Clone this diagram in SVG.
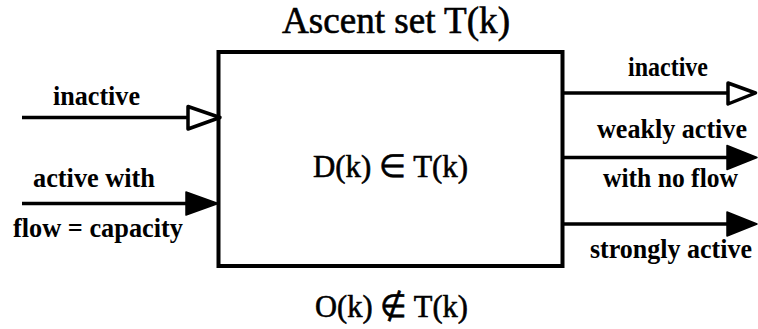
<svg xmlns="http://www.w3.org/2000/svg" width="758" height="329" viewBox="0 0 758 329">
<style>
.lbl{font-family:"Liberation Serif","Times New Roman",serif;font-weight:bold;font-size:27px;fill:#000}
.big{font-family:"Liberation Serif","Times New Roman",serif;fill:#000;stroke:#000;stroke-width:0.6}
.ln{stroke:#000;stroke-width:3.5;fill:none}
.open{fill:#fff;stroke:#000;stroke-width:3.5;stroke-linejoin:round}
.solid{fill:#000;stroke:#000;stroke-width:1.5;stroke-linejoin:round}
</style>
<rect width="758" height="329" fill="#fff"/>
<g id="title">
<text class="big" x="282" y="33" font-size="37" textLength="228" lengthAdjust="spacingAndGlyphs">Ascent set T(k)</text>
</g>
<g id="ascent-set">
<rect x="218.5" y="52" width="344" height="214" fill="#fff" stroke="#000" stroke-width="4"/>
<text class="big" x="313" y="177" font-size="32" textLength="155" lengthAdjust="spacingAndGlyphs">D(k) ∈ T(k)</text>
</g>
<g id="outside">
<text class="big" x="315" y="317" font-size="32" textLength="153" lengthAdjust="spacingAndGlyphs">O(k) ∉ T(k)</text>
</g>
<g id="connectors">
<line class="ln" x1="22" y1="117.5" x2="190" y2="117.5"/>
<polygon class="open" points="188,106.5 220,117.5 188,129"/>
<text class="lbl" x="53" y="105" textLength="87" lengthAdjust="spacingAndGlyphs">inactive</text>
<line class="ln" x1="22" y1="203.5" x2="188" y2="203.5"/>
<polygon class="solid" points="186,192 218,203.5 186,215"/>
<text class="lbl" x="33" y="187" textLength="122" lengthAdjust="spacingAndGlyphs">active with</text>
<text class="lbl" x="13" y="237" textLength="170" lengthAdjust="spacingAndGlyphs">flow = capacity</text>
<line class="ln" x1="562" y1="93" x2="729" y2="93"/>
<polygon class="open" points="728,83 755.5,93 728,104"/>
<text class="lbl" x="628" y="76" textLength="80" lengthAdjust="spacingAndGlyphs">inactive</text>
<line class="ln" x1="562" y1="157.5" x2="729" y2="157.5"/>
<polygon class="solid" points="727,145.5 757,157.5 727,169.5"/>
<text class="lbl" x="597" y="138" textLength="150" lengthAdjust="spacingAndGlyphs">weakly active</text>
<text class="lbl" x="603" y="187" textLength="135" lengthAdjust="spacingAndGlyphs">with no flow</text>
<line class="ln" x1="562" y1="224" x2="729" y2="224"/>
<polygon class="solid" points="727,212 757,224 727,236"/>
<text class="lbl" x="590" y="258" textLength="162" lengthAdjust="spacingAndGlyphs">strongly active</text>
</g>
</svg>
